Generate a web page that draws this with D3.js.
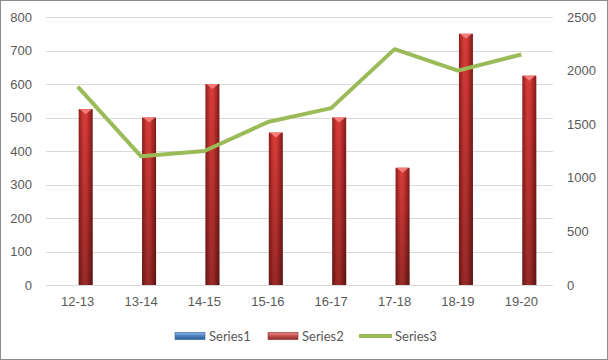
<!DOCTYPE html>
<html>
<head>
<meta charset="utf-8">
<script src="https://cdn.jsdelivr.net/npm/d3@7"></script>
<style>
  body { margin: 0; background: #fff; }
  svg { font-family: Lato, "Open Sans", sans-serif; }
</style>
</head>
<body>
<svg id="chart" width="608" height="360"></svg>
<script>
// data
var years = ["12-13", "13-14", "14-15", "15-16", "16-17", "17-18", "18-19", "19-20"];
var series1 = [0, 0, 0, 0, 0, 0, 0, 0];
var series2 = [525, 500, 600, 455, 500, 350, 750, 625];
var series3 = [1850, 1200, 1250, 1520, 1650, 2200, 2000, 2150];
var leftTicks = [0, 100, 200, 300, 400, 500, 600, 700, 800];
var rightTicks = [0, 500, 1000, 1500, 2000, 2500];

var svg = d3.select("#chart"),
    width = +svg.attr("width"),
    height = +svg.attr("height");

var margin = {top: 17, right: 55, bottom: 75, left: 46};
var plotW = width - margin.left - margin.right,
    plotH = height - margin.top - margin.bottom;

// frame
svg.append("rect")
    .attr("x", 0.5).attr("y", 0.5)
    .attr("width", width - 1).attr("height", height - 1)
    .attr("fill", "#fff").attr("stroke", "#8c8c8c");

var defs = svg.append("defs");
var gRed = defs.append("linearGradient").attr("id", "redH").attr("x1", 0).attr("x2", 1).attr("y1", 0).attr("y2", 0);
gRed.append("stop").attr("offset", "0%").attr("stop-color", "#8e1f1d");
gRed.append("stop").attr("offset", "35%").attr("stop-color", "#d83b38");
gRed.append("stop").attr("offset", "55%").attr("stop-color", "#d63a37");
gRed.append("stop").attr("offset", "100%").attr("stop-color", "#7f1a18");
var gShade = defs.append("linearGradient").attr("id", "shadeV").attr("x1", 0).attr("x2", 0).attr("y1", 0).attr("y2", 1);
gShade.append("stop").attr("offset", "0%").attr("stop-color", "#000").attr("stop-opacity", 0);
gShade.append("stop").attr("offset", "100%").attr("stop-color", "#000").attr("stop-opacity", 0.3);
var gBlue = defs.append("linearGradient").attr("id", "blueV").attr("x1", 0).attr("x2", 0).attr("y1", 0).attr("y2", 1);
gBlue.append("stop").attr("offset", "0%").attr("stop-color", "#8fb8ea");
gBlue.append("stop").attr("offset", "50%").attr("stop-color", "#4a7ebb");
gBlue.append("stop").attr("offset", "100%").attr("stop-color", "#2c5d98");
var gRedV = defs.append("linearGradient").attr("id", "redV").attr("x1", 0).attr("x2", 0).attr("y1", 0).attr("y2", 1);
gRedV.append("stop").attr("offset", "0%").attr("stop-color", "#f08a88");
gRedV.append("stop").attr("offset", "50%").attr("stop-color", "#c0504d");
gRedV.append("stop").attr("offset", "100%").attr("stop-color", "#8e2a28");

var g = svg.append("g").attr("transform", "translate(" + margin.left + "," + margin.top + ")");

var x = d3.scaleBand().domain(years).range([0, plotW]);
var yL = d3.scaleLinear().domain([0, 800]).range([plotH, 0]);
var yR = d3.scaleLinear().domain([0, 2500]).range([plotH, 0]);

// gridlines
g.append("g")
    .selectAll("line")
    .data(leftTicks)
    .enter()
    .append("line")
    .attr("x1", 0).attr("x2", plotW)
    .attr("y1", function (d) { return Math.round(yL(d)) + 0.5; })
    .attr("y2", function (d) { return Math.round(yL(d)) + 0.5; })
    .attr("stroke", "#d9d9d9");

// left axis
var axL = g.append("g")
    .call(d3.axisLeft(yL).tickValues(leftTicks).tickSize(0).tickPadding(14));
axL.select(".domain").remove();
axL.selectAll("text").attr("fill", "#595959").style("font-size", "13px");

// right axis
var axR = g.append("g")
    .attr("transform", "translate(" + plotW + ",0)")
    .call(d3.axisRight(yR).tickValues(rightTicks).tickFormat(d3.format("d")).tickSize(0).tickPadding(14));
axR.select(".domain").remove();
axR.selectAll("text").attr("fill", "#595959").style("font-size", "13px");

// bottom axis
var axB = g.append("g")
    .attr("transform", "translate(0," + plotH + ")")
    .call(d3.axisBottom(x).tickSize(0).tickPadding(12));
axB.select(".domain").remove();
axB.selectAll("text").attr("fill", "#595959").style("font-size", "13px");

// series2 bars
var barW = 14;
var bars = g.append("g")
    .selectAll("g")
    .data(series2)
    .enter()
    .append("g")
    .attr("transform", function (d, i) { return "translate(" + (x(years[i]) + x.bandwidth() / 2 + 1) + ",0)"; });

bars.append("rect")
    .attr("x", 0)
    .attr("y", function (d) { return yL(d); })
    .attr("width", barW)
    .attr("height", function (d) { return plotH - yL(d); })
    .attr("fill", "url(#redH)");
bars.append("rect")
    .attr("x", 0)
    .attr("y", function (d) { return yL(d); })
    .attr("width", barW)
    .attr("height", function (d) { return plotH - yL(d); })
    .attr("fill", "url(#shadeV)");
bars.append("path")
    .attr("d", function (d) {
        var t = yL(d);
        return "M1," + t + "L" + (barW - 1) + "," + t + "L" + (barW / 2) + "," + (t + 5) + "Z";
    })
    .attr("fill", "#f27c79");

// series3 line
var line = d3.line()
    .x(function (d, i) { return x(years[i]) + x.bandwidth() / 2; })
    .y(function (d) { return yR(d); });
g.append("path")
    .datum(series3)
    .attr("d", line)
    .attr("fill", "none")
    .attr("stroke", "#9bbb59")
    .attr("stroke-width", 4)
    .attr("stroke-linejoin", "round");

// legend
var legend = svg.append("g").attr("transform", "translate(0,336)");
var items = [
    {name: "Series1", x: 175, type: "bar", fill: "url(#blueV)", stroke: "#2c5d98"},
    {name: "Series2", x: 268, type: "bar", fill: "url(#redV)", stroke: "#8e2a28"},
    {name: "Series3", x: 359, type: "line", fill: "#9bbb59"}
];
items.forEach(function (it) {
    if (it.type === "bar") {
        legend.append("rect")
            .attr("x", it.x).attr("y", -3.5)
            .attr("width", 30).attr("height", 7)
            .attr("fill", it.fill).attr("stroke", it.stroke).attr("stroke-width", 0.6);
    } else {
        legend.append("line")
            .attr("x1", it.x).attr("x2", it.x + 33)
            .attr("y1", 0).attr("y2", 0)
            .attr("stroke", it.fill).attr("stroke-width", 4);
    }
    legend.append("text")
        .attr("x", it.type === "bar" ? it.x + 34 : it.x + 36)
        .attr("y", 0)
        .attr("dy", "0.35em")
        .attr("fill", "#595959")
        .style("font-size", "13px")
        .text(it.name);
});
</script>
</body>
</html>
